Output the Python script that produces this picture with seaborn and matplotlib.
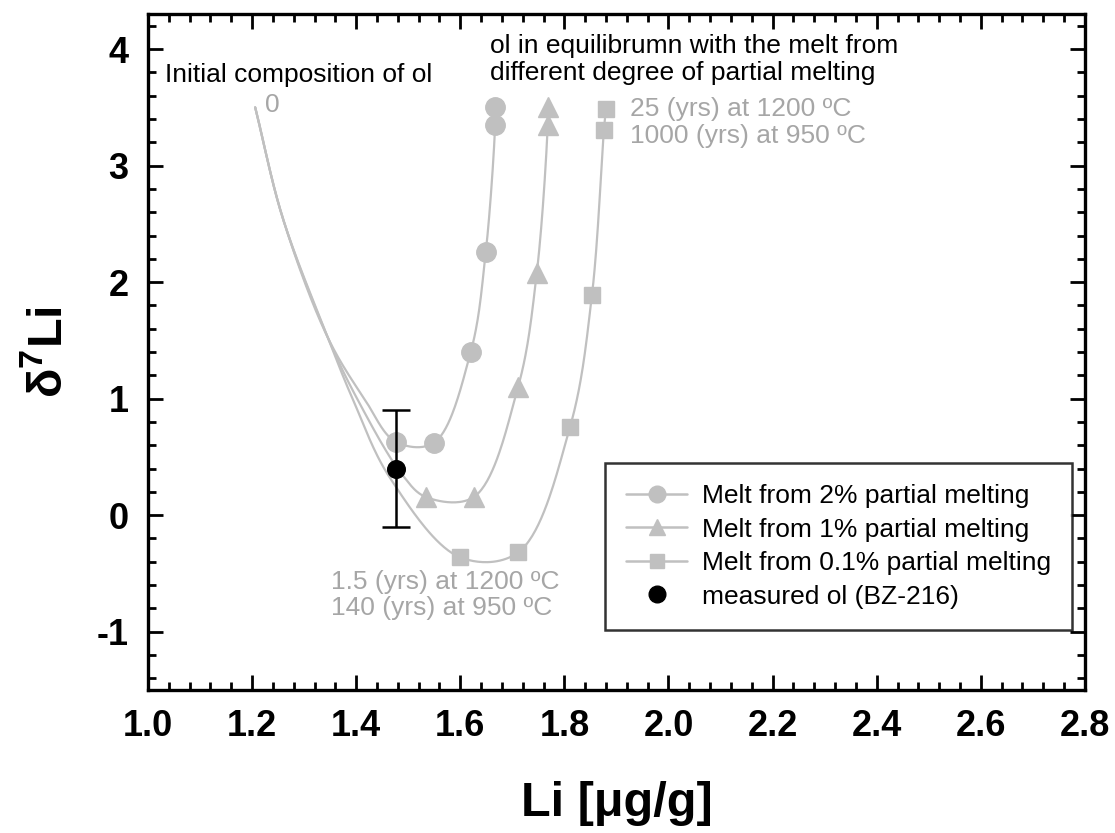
import numpy as np
import pandas as pd
import matplotlib
matplotlib.use("Agg")
import matplotlib.pyplot as plt
import seaborn as sns
from matplotlib.lines import Line2D
from matplotlib.ticker import MultipleLocator

# valores lidos da figura
# trecho comum: composicao inicial (0) ate a separacao das curvas
lead_x = [1.206, 1.259, 1.346]
lead_y = [3.50, 2.55, 1.52]

# 2% de fusao parcial
path2_x = [1.417]
path2_y = [0.99]
melt2_x = [1.476, 1.549, 1.620, 1.649, 1.667, 1.667]
melt2_y = [0.63, 0.62, 1.40, 2.26, 3.35, 3.50]

# 1% de fusao parcial
path1_x = [1.403, 1.488]
path1_y = [0.99, 0.35]
melt1_x = [1.534, 1.626, 1.711, 1.747, 1.768, 1.768]
melt1_y = [0.156, 0.156, 1.10, 2.08, 3.35, 3.50]

# 0.1% de fusao parcial
path01_x = [1.394, 1.465]
path01_y = [0.99, 0.32]
melt01_x = [1.599, 1.711, 1.811, 1.853, 1.876, 1.880]
melt01_y = [-0.36, -0.32, 0.76, 1.89, 3.31, 3.49]

# olivina medida (BZ-216)
meas_x = [1.476]
meas_y = [0.40]
meas_err = [0.50]

labels = ["Melt from 2% partial melting", "Melt from 1% partial melting",
          "Melt from 0.1% partial melting", "measured ol (BZ-216)"]


def spline(px, py, n=40):
    # catmull-rom centripeto, em escala parecida com a de pixels
    sx = 4.46
    p = np.column_stack([np.array(px) * sx, np.array(py)])
    p = np.vstack([2 * p[0] - p[1], p, 2 * p[-1] - p[-2]])
    out = []
    for i in range(1, len(p) - 2):
        p0, p1, p2, p3 = p[i - 1], p[i], p[i + 1], p[i + 2]
        t0 = 0.0
        t1 = t0 + max(np.linalg.norm(p1 - p0), 1e-6) ** 0.5
        t2 = t1 + max(np.linalg.norm(p2 - p1), 1e-6) ** 0.5
        t3 = t2 + max(np.linalg.norm(p3 - p2), 1e-6) ** 0.5
        t = np.linspace(t1, t2, n)[:, None]
        a1 = (t1 - t) / (t1 - t0) * p0 + (t - t0) / (t1 - t0) * p1
        a2 = (t2 - t) / (t2 - t1) * p1 + (t - t1) / (t2 - t1) * p2
        a3 = (t3 - t) / (t3 - t2) * p2 + (t - t2) / (t3 - t2) * p3
        b1 = (t2 - t) / (t2 - t0) * a1 + (t - t0) / (t2 - t0) * a2
        b2 = (t3 - t) / (t3 - t1) * a2 + (t - t1) / (t3 - t1) * a3
        c = (t2 - t) / (t2 - t1) * b1 + (t - t1) / (t2 - t1) * b2
        out.append(c)
    c = np.vstack(out)
    return c[:, 0] / sx, c[:, 1]


sns.set_theme(style="ticks")
plt.rcParams["font.family"] = ["Liberation Sans", "DejaVu Sans"]
plt.rcParams["mathtext.fontset"] = "custom"
plt.rcParams["mathtext.rm"] = "Liberation Sans"
plt.rcParams["mathtext.bf"] = "Liberation Sans:bold"
plt.rcParams["axes.unicode_minus"] = False
plt.rcParams["text.color"] = "black"
plt.rcParams["axes.labelcolor"] = "black"

gray = "#c0c0c0"
tgray = "#a6a6a6"

fig = plt.figure(figsize=(11.15, 8.33), dpi=100)
ax = fig.add_axes([0.1327, 0.1717, 0.8403, 0.8113])

series = [
    (path2_x, path2_y, melt2_x, melt2_y, "o", 14),
    (path1_x, path1_y, melt1_x, melt1_y, "^", 14.5),
    (path01_x, path01_y, melt01_x, melt01_y, "s", 11.5),
]
for pxs, pys, mx, my, mk, ms in series:
    cx, cy = spline(lead_x + pxs + mx, lead_y + pys + my)
    sns.lineplot(x=cx, y=cy, sort=False, estimator=None, color=gray, lw=1.6, ax=ax)
    ax.plot(mx, my, ls="none", marker=mk, ms=ms, color=gray, mec=gray, zorder=3)

ax.errorbar(meas_x, meas_y, yerr=meas_err, fmt="none", ecolor="black",
            elinewidth=1.8, capsize=10, capthick=1.8, zorder=4)
sns.scatterplot(x=meas_x, y=meas_y, color="black", s=160, edgecolor="black",
                zorder=5, ax=ax)

ax.set_xlim(1.0, 2.8)
ax.set_ylim(-1.5, 4.3)
ax.xaxis.set_major_locator(MultipleLocator(0.2))
ax.xaxis.set_minor_locator(MultipleLocator(0.04))
ax.yaxis.set_major_locator(MultipleLocator(1))
ax.yaxis.set_minor_locator(MultipleLocator(0.2))
ax.xaxis.set_major_formatter(matplotlib.ticker.FormatStrFormatter("%.1f"))
ax.tick_params(which="both", direction="in", top=True, right=True, width=2,
               colors="black", labelcolor="black")
ax.tick_params(which="major", length=11, labelsize=26, pad=14)
ax.tick_params(which="minor", length=6)
for lab in ax.get_xticklabels() + ax.get_yticklabels():
    lab.set_fontweight("bold")
for sp in ax.spines.values():
    sp.set_linewidth(2.4)
    sp.set_color("black")

ax.set_xlabel("Li [μg/g]", fontsize=35, fontweight="bold", labelpad=26, color="black")
ax.set_ylabel(r"δ$^{\mathbf{7}}$Li", fontsize=35, fontweight="bold", labelpad=18, color="black")

# textos
ax.text(1.033, 3.78, "Initial composition of ol", fontsize=19, va="center", ha="left")
ax.text(1.657, 4.13, "ol in equilibrumn with the melt from\ndifferent degree of partial melting",
        fontsize=19, va="top", ha="left", linespacing=1.17)
ax.text(1.225, 3.52, "0", fontsize=19, color=tgray, va="center", ha="left")
ax.text(1.926, 3.59, "25 (yrs) at 1200 ºC\n1000 (yrs) at 950 ºC", fontsize=19,
        color=tgray, va="top", ha="left", linespacing=1.17)
ax.text(1.352, -0.47, "1.5 (yrs) at 1200 ºC\n140 (yrs) at 950 ºC", fontsize=19,
        color=tgray, va="top", ha="left", linespacing=1.1)

handles = [
    Line2D([], [], color=gray, lw=1.8, marker="o", ms=12, mec=gray),
    Line2D([], [], color=gray, lw=1.8, marker="^", ms=12, mec=gray),
    Line2D([], [], color=gray, lw=1.8, marker="s", ms=10, mec=gray),
    Line2D([], [], color="black", ls="none", marker="o", ms=12),
]
leg = ax.legend(handles, labels, loc="upper left", bbox_to_anchor=(0.488, 0.336),
                borderaxespad=0, fontsize=19, frameon=True, fancybox=False,
                handlelength=2.3, handletextpad=0.55, labelspacing=0.36,
                borderpad=0.8, edgecolor="black")
leg.get_frame().set_linewidth(1.8)
for t in leg.get_texts():
    t.set_color("black")

fig.savefig("out.png", dpi=100)
